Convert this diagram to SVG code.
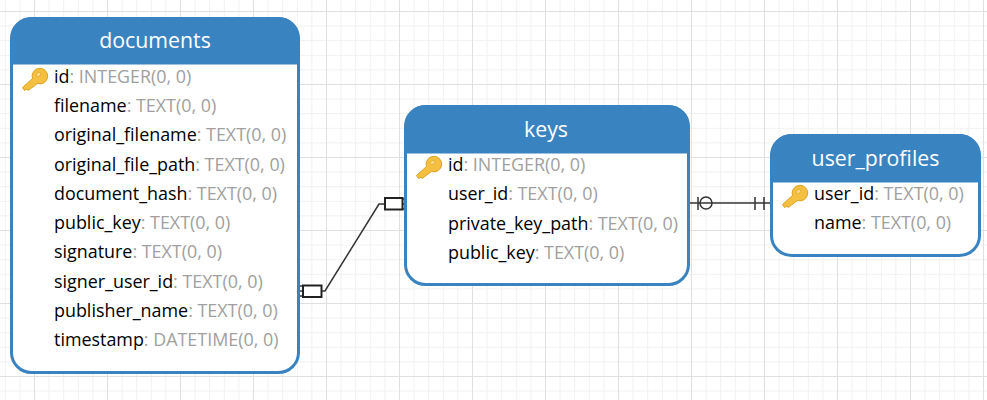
<svg xmlns="http://www.w3.org/2000/svg" width="987" height="400" viewBox="0 0 987 400">
<style>
.b{fill:#fff;stroke:#3a83c1;stroke-width:3}
.h{fill:#3a83c1;stroke:#3a83c1;stroke-width:3}
.t{font-family:"Open Sans","Noto Sans",sans-serif;font-size:21.3px;fill:#fff;text-anchor:middle}
.r{font-family:"Open Sans","Noto Sans",sans-serif;font-size:17.9px;fill:#000}
.r tspan{fill:#a0a0a0}
.c{fill:none;stroke:#333;stroke-width:1.5}
.m{fill:#fff;stroke:#222;stroke-width:2}
</style>
<defs>
<pattern id="grid" x="34" y="11" width="73" height="73" patternUnits="userSpaceOnUse">
<path d="M15.1 0V73M29.7 0V73M44.3 0V73M58.9 0V73M0 15.1H73M0 29.7H73M0 44.3H73M0 58.9H73" fill="none" stroke="#f1f1f1" stroke-width="1"/>
<path d="M.5 0V73M0 .5H73" fill="none" stroke="#e0e0e0" stroke-width="1"/>
</pattern>
<g id="key">
<path d="M-9.5 12.5 L-11.5 9.5 L-1.5 0.5 A7.8 7.8 0 1 1 3.5 5.5 L-6 12.5 L-7 11 Z" fill="#f5bf3f" stroke="#dba226" stroke-width="1"/>
<ellipse cx="4.500" cy="-3.500" rx="2.600" ry="1.800" fill="#fbdc8a" stroke="#dba226" stroke-width=".7" transform="rotate(-40 4.500 -3.500)"/>
</g>
</defs>
<rect width="987" height="400" fill="#fff"/>
<rect width="987" height="400" fill="url(#grid)"/>
<g id="connectors">
<path class="c" d="M300 291H325L379 204H405"/>
<path class="c" d="M300 286H303M300 296H303M403 199H405M403 209H405"/>
<rect class="m" x="303" y="285.500" width="18.500" height="11.500"/>
<rect class="m" x="385" y="198" width="17.500" height="11.500"/>
<path class="c" d="M689 203H772"/>
<path class="c" d="M698 197V210M755 197V210M764 197V210"/>
<circle cx="706" cy="203" r="6" fill="none" stroke="#333" stroke-width="1.500"/>
</g>
<g id="documents">
<rect class="b" x="11.500" y="18.500" width="287" height="354" rx="20"/>
<path class="h" d="M12 63V38.500A20 20 0 0 1 32 18.500H278A20 20 0 0 1 298 38.500V63Z"/>
<text class="t" x="155" y="48">documents</text>
<use href="#key" x="34" y="78"/>
<text class="r" x="54" y="83">id<tspan>: INTEGER(0, 0)</tspan></text>
<text class="r" x="54" y="112">filename<tspan>: TEXT(0, 0)</tspan></text>
<text class="r" x="54" y="141">original_filename<tspan>: TEXT(0, 0)</tspan></text>
<text class="r" x="54" y="171">original_file_path<tspan>: TEXT(0, 0)</tspan></text>
<text class="r" x="54" y="200">document_hash<tspan>: TEXT(0, 0)</tspan></text>
<text class="r" x="54" y="229">public_key<tspan>: TEXT(0, 0)</tspan></text>
<text class="r" x="54" y="258">signature<tspan>: TEXT(0, 0)</tspan></text>
<text class="r" x="54" y="288">signer_user_id<tspan>: TEXT(0, 0)</tspan></text>
<text class="r" x="54" y="317">publisher_name<tspan>: TEXT(0, 0)</tspan></text>
<text class="r" x="54" y="346">timestamp<tspan>: DATETIME(0, 0)</tspan></text>
</g>
<g id="keys">
<rect class="b" x="405.500" y="106.500" width="283" height="178" rx="20"/>
<path class="h" d="M406 152V126.500A20 20 0 0 1 426 106.500H668A20 20 0 0 1 688 126.500V152Z"/>
<text class="t" x="546" y="137">keys</text>
<use href="#key" x="428" y="166"/>
<text class="r" x="448" y="171">id<tspan>: INTEGER(0, 0)</tspan></text>
<text class="r" x="448" y="200">user_id<tspan>: TEXT(0, 0)</tspan></text>
<text class="r" x="448" y="230">private_key_path<tspan>: TEXT(0, 0)</tspan></text>
<text class="r" x="448" y="259">public_key<tspan>: TEXT(0, 0)</tspan></text>
</g>
<g id="user_profiles">
<rect class="b" x="771.500" y="135.500" width="208" height="120" rx="20"/>
<path class="h" d="M772 181V155.500A20 20 0 0 1 792 135.500H959A20 20 0 0 1 979 155.500V181Z"/>
<text class="t" x="875.500" y="166">user_profiles</text>
<use href="#key" x="794" y="195"/>
<text class="r" x="814" y="200">user_id<tspan>: TEXT(0, 0)</tspan></text>
<text class="r" x="814" y="229">name<tspan>: TEXT(0, 0)</tspan></text>
</g>
</svg>
